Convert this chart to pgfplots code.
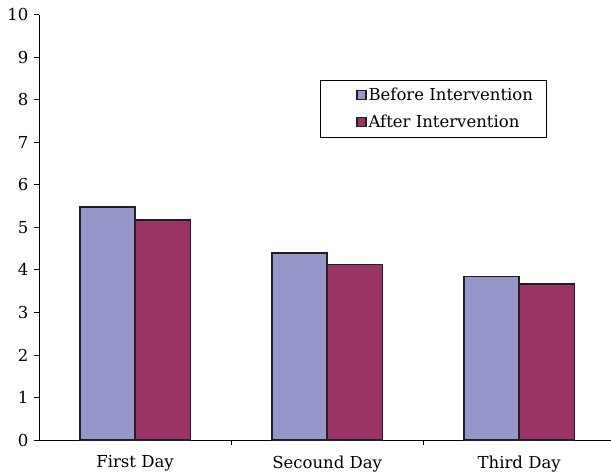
\documentclass[border=0pt]{standalone}
\usepackage{fontspec}
\setmainfont{DejaVu Serif}
\usepackage{pgfplots}
\pgfplotsset{compat=1.18}
\definecolor{before}{RGB}{149,150,201}
\definecolor{after}{RGB}{153,51,102}
\definecolor{edge}{RGB}{35,31,32}
\begin{document}
\begin{tikzpicture}
  \useasboundingbox (-39pt,-35pt) rectangle (572pt,440pt);
  \begin{axis}[
      at={(0,0)}, anchor=south west,
      scale only axis,
      width=572pt, height=425.5pt,
      axis x line=bottom, axis y line=left,
      axis line style={-, black, line width=0.8pt},
      xmin=-0.5, xmax=2.478,
      ymin=0, ymax=10,
      ytick={0,1,...,10},
      xtick={0,1,2},
      xticklabels={First Day, Secound Day, Third Day},
      minor xtick={0.5,1.5},
      major x tick style={draw=none},
      minor x tick style={black, line width=0.8pt},
      y tick style={black, line width=0.8pt},
      tick align=outside,
      major tick length=5pt, minor tick length=5pt,
      ticklabel style={font=\fontsize{16.5}{19}\selectfont},
      x tick label style={yshift=-7pt},
      y tick label style={xshift=-2pt},
      /pgf/number format/assume math mode=true,
      ybar, bar width=0.288,
      legend style={at={(rel axis cs:0.491,0.845)}, anchor=north west,
        draw=black, line width=0.6pt, inner xsep=11pt, inner ysep=5.5pt,
        font=\fontsize{16.5}{19}\selectfont, row sep=9pt},
      legend cell align=left,
      legend image code/.code={%
        \path (-25pt,0pt);
        \draw[#1, draw=edge, line width=1.2pt] (0pt,-4.5pt) rectangle (9pt,4.5pt);},
    ]
    \addplot[fill=before, draw=edge, line width=1.6pt, bar shift=-0.144]
      coordinates {(0,5.47) (1,4.39) (2,3.84)};
    \addplot[fill=after, draw=edge, line width=1.6pt, bar shift=0.144]
      coordinates {(0,5.17) (1,4.12) (2,3.66)};
    \legend{Before Intervention, After Intervention}
  \end{axis}
\end{tikzpicture}
\end{document}
